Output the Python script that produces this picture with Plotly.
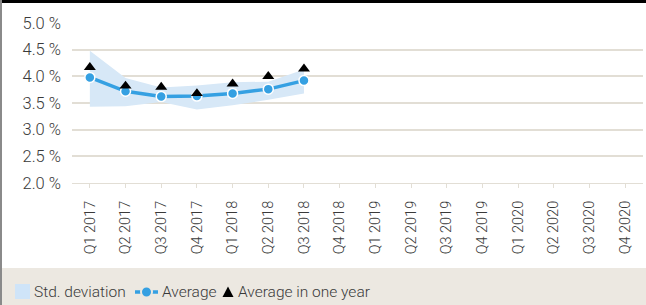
import plotly.graph_objects as go

quarters = ["Q1 2017", "Q2 2017", "Q3 2017", "Q4 2017", "Q1 2018", "Q2 2018", "Q3 2018",
            "Q4 2018", "Q1 2019", "Q2 2019", "Q3 2019", "Q4 2019", "Q1 2020", "Q2 2020",
            "Q3 2020", "Q4 2020"]
average = [3.98, 3.72, 3.62, 3.63, 3.68, 3.76, 3.92] + [None] * 9
avg_one_year = [4.17, 3.82, 3.80, 3.68, 3.86, 4.00, 4.14] + [None] * 9
std_upper = [4.48, 3.97, 3.79, 3.83, 3.89, 3.90, 4.13] + [None] * 9
std_lower = [3.43, 3.44, 3.52, 3.38, 3.46, 3.56, 3.68] + [None] * 9
y_ticks = [2.0, 2.5, 3.0, 3.5, 4.0, 4.5, 5.0]
y_tick_labels = ["2.0 %", "2.5 %", "3.0 %", "3.5 %", "4.0 %", "4.5 %", "5.0 %"]
legend_labels = ["Std. deviation", "Average", "Average in one year"]

FONT = "Roboto"
TXT = "#3a3a3a"
GRID = "#e2ded5"
BEIGE = "#ece8e1"
BAND = "#d7e8f7"
BLUE = "#35a0e2"

n_valid = 7
fig = go.Figure()
fig.add_trace(go.Scatter(x=quarters[:n_valid], y=std_lower[:n_valid], mode="lines",
                         line=dict(width=0, color=BAND), showlegend=False, hoverinfo="skip"))
fig.add_trace(go.Scatter(x=quarters[:n_valid], y=std_upper[:n_valid], mode="lines", fill="tonexty",
                         fillcolor=BAND, line=dict(width=0, color=BAND),
                         name=legend_labels[0], showlegend=False))
fig.add_trace(go.Scatter(x=quarters, y=average, mode="lines+markers", name=legend_labels[1],
                         showlegend=False,
                         line=dict(color=BLUE, width=3.5),
                         marker=dict(size=10, color=BLUE, line=dict(color="white", width=1.5))))
fig.add_trace(go.Scatter(x=quarters, y=avg_one_year, mode="markers", name=legend_labels[2],
                         showlegend=False,
                         marker=dict(symbol="triangle-up", size=10.5, color="black")))

H = 160.0
W = 571.0
def py(px):
    return (183 - px) / H
def pxx(px):
    return (px - 72) / W

LY = 292
shapes = [
    dict(type="rect", xref="paper", yref="paper", x0=pxx(0), x1=pxx(646), y0=py(268), y1=py(305),
         fillcolor=BEIGE, line=dict(width=0), layer="below"),
    dict(type="rect", xref="paper", yref="paper", x0=pxx(0), x1=pxx(646), y0=py(-1), y1=py(3),
         fillcolor="black", line=dict(width=0), layer="above"),
    dict(type="rect", xref="paper", yref="paper", x0=pxx(0), x1=pxx(2), y0=py(0), y1=py(305),
         fillcolor="#8a8a8a", line=dict(width=0), layer="above"),
    # legend: band swatch
    dict(type="rect", xref="paper", yref="paper", x0=pxx(15), x1=pxx(30), y0=py(284), y1=py(299),
         fillcolor="#cfe4f8", line=dict(width=0), layer="above"),
    # legend: average line + circle
    dict(type="line", xref="paper", yref="paper", x0=pxx(135), x1=pxx(158), y0=py(LY), y1=py(LY),
         line=dict(color=BLUE, width=3.5), layer="above"),
    dict(type="circle", xref="paper", yref="paper", x0=pxx(141), x1=pxx(152), y0=py(286.5), y1=py(297.5),
         fillcolor=BLUE, line=dict(color=BEIGE, width=2), layer="above"),
    # legend: triangle
    dict(type="path", xref="paper", yref="paper",
         path=f"M {pxx(222.5)},{py(297)} L {pxx(233.5)},{py(297)} L {pxx(228)},{py(286.5)} Z",
         fillcolor="black", line=dict(width=0), layer="above"),
]
annotations = [
    dict(xref="paper", yref="paper", x=pxx(x0), y=py(LY), text=t, showarrow=False,
         xanchor="left", yanchor="middle", font=dict(family=FONT, size=15.5, color=TXT, weight=300))
    for x0, t in zip([32, 160, 236], legend_labels)
]

fig.update_layout(
    width=646, height=305,
    margin=dict(l=72, r=3, t=23, b=122),
    paper_bgcolor="white", plot_bgcolor="white",
    showlegend=False,
    font=dict(family=FONT, size=14, color=TXT, weight=300),
    xaxis=dict(type="category", categoryorder="array", categoryarray=quarters,
               range=[-0.5, len(quarters) - 0.5], tickangle=-90, ticks="outside",
               ticklen=4, tickcolor=GRID, showline=True, linecolor=GRID, linewidth=1,
               showgrid=False, ticklabelstandoff=7,
               tickfont=dict(family=FONT, size=14.5, color=TXT, weight=300), fixedrange=True),
    yaxis=dict(range=[2, 5.0], tickvals=y_ticks, ticktext=y_tick_labels, showgrid=True,
               gridcolor=GRID, gridwidth=2, zeroline=False, showline=False,
               ticklabelstandoff=10,
               tickfont=dict(family=FONT, size=16.5, color=TXT, weight=300), fixedrange=True),
    shapes=shapes,
    annotations=annotations,
)

fig.write_html("out.html", config={"displayModeBar": False})
with open("out.html", "r", encoding="utf-8") as f:
    html = f.read()
html = html.replace("<head>", "<head><style>html,body{margin:0;padding:0;overflow:hidden;}</style>", 1)
with open("out.html", "w", encoding="utf-8") as f:
    f.write(html)
